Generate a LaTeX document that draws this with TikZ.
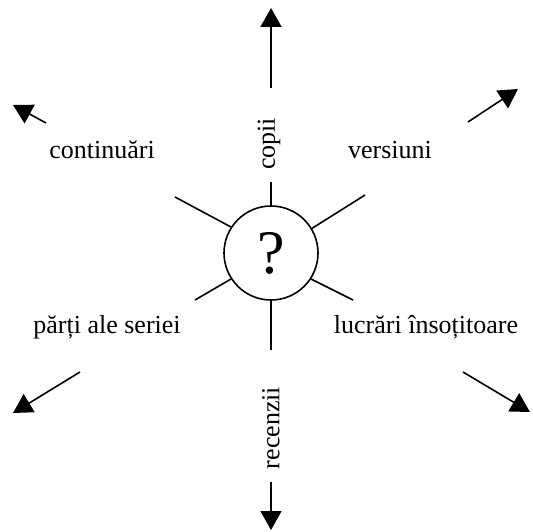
\documentclass[tikz,border=0pt]{standalone}
\usepackage{fontspec}
\setmainfont{Liberation Serif}
\usetikzlibrary{arrows.meta}

\begin{document}
\begin{tikzpicture}[x=0.5pt,y=0.5pt,line width=0.8pt,
   every node/.style={font=\fontsize{13}{15}\selectfont},
   ray/.style={-{Triangle[length=9.5pt,width=10.5pt]}},
   hub/.style={draw,circle,minimum size=47pt,inner sep=0pt,
      font=\fontsize{31}{36}\selectfont}]
\useasboundingbox (0,0) rectangle (533,531);
\node[hub] (q) at (271,278) {?};
\node[rotate=90] (copii) at (269,387) {copii};
\node[rotate=90] (recenzii) at (271,103) {recenzii};
\node[anchor=base] (continuari) at (102,373) {continuări};
\node[anchor=base] (versiuni) at (390,373) {versiuni};
\node[anchor=base] (parti) at (107,198) {părți ale seriei};
\node[anchor=base] (lucrari) at (426,198) {lucrări însoțitoare};
\coordinate (n1) at (271,349);
\coordinate (n2) at (271,443);
\coordinate (n3) at (271,523);
\coordinate (s1) at (271,181);
\coordinate (s2) at (271,49);
\coordinate (s3) at (271,1);
\coordinate (nw1) at (175,334);
\coordinate (nw2) at (46,408);
\coordinate (nw3) at (13,426);
\coordinate (ne1) at (365,336);
\coordinate (ne2) at (468,409);
\coordinate (ne3) at (518,442);
\coordinate (sw1) at (195,231);
\coordinate (sw2) at (80,159);
\coordinate (sw3) at (13,118);
\coordinate (se1) at (353,231);
\coordinate (se2) at (463,159);
\coordinate (se3) at (530,119);
\draw (q.north) -- (n1);
\draw[ray] (n2) -- (n3);
\draw (q.south) -- (s1);
\draw[ray] (s2) -- (s3);
\draw (q.147) -- (nw1);
\draw[ray] (nw2) -- (nw3);
\draw (q.31) -- (ne1);
\draw[ray] (ne2) -- (ne3);
\draw (q.213) -- (sw1);
\draw[ray] (sw2) -- (sw3);
\draw (q.327) -- (se1);
\draw[ray] (se2) -- (se3);
\end{tikzpicture}
\end{document}
